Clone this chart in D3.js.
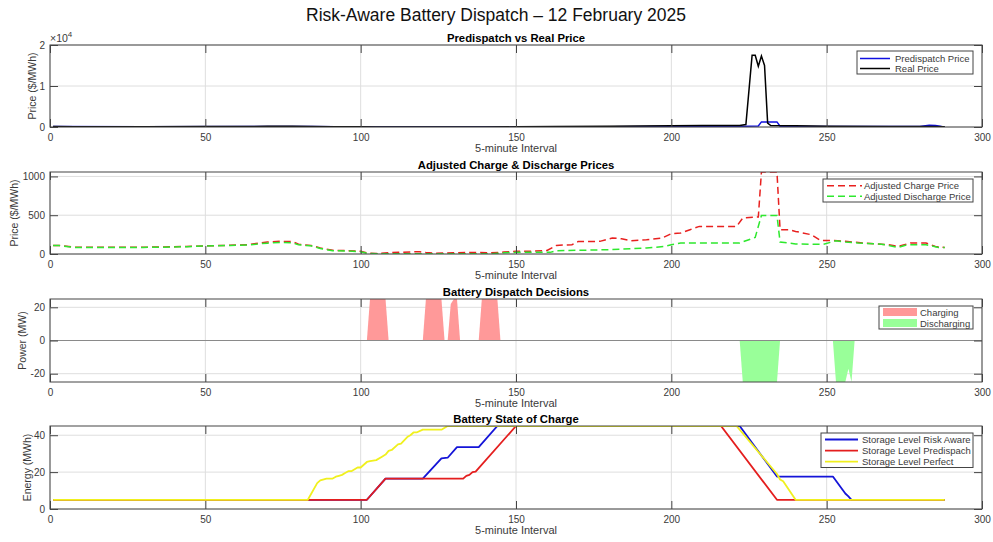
<!DOCTYPE html>
<html>
<head>
<meta charset="utf-8">
<script src="https://cdn.jsdelivr.net/npm/d3@7"></script>
<style>
  body { margin: 0; background: #fff; }
  svg { display: block; font-family: "Liberation Sans", Arial, Helvetica, sans-serif; }
</style>
</head>
<body>
<svg id="chart" width="993" height="542"></svg>
<script>
// ---- data: [5-minute interval, value] points ----
const intervalTicks = [0, 50, 100, 150, 200, 250, 300];

const predispatchPrice = [[1,105],[30,85],[70,150],[84,100],[100,30],[110,10],[150,25],[180,60],[200,120],[222,150],[228,250],[229,1250],[234,1250],[235,200],[240,150],[260,150],[280,110],[283,400],[285,350],[287,100],[288,85]];
const realPrice = [[1,115],[8,90],[30,90],[50,110],[64,125],[70,170],[74,190],[78,170],[84,110],[91,50],[100,35],[105,10],[120,30],[140,15],[150,35],[163,120],[180,180],[200,280],[210,380],[222,380],[224,600],[226,17500],[227,17500],[228,14800],[229,17300],[230,15000],[231,950],[232,350],[240,300],[250,180],[270,120],[284,150],[288,90]];

const chargePrice = [[1,111],[3,111],[8,88],[30,88],[37,90],[44,98],[50,105],[58,112],[64,120],[67,140],[70,155],[74,163],[78,160],[80,125],[84,110],[87,78],[91,48],[96,43],[100,35],[102,13],[105,5],[110,18],[113,22],[119,30],[121,18],[124,10],[130,15],[136,20],[142,15],[146,25],[150,34],[156,37],[160,45],[163,111],[168,120],[170,160],[177,163],[181,206],[184,197],[187,171],[192,184],[197,206],[200,262],[203,270],[206,313],[209,356],[221,356],[223,464],[228,477],[229,1057],[234,1057],[235,313],[238,313],[240,291],[245,249],[248,175],[252,175],[256,163],[262,142],[270,120],[273,98],[277,142],[282,142],[285,98],[288,85]];
const dischargePrice = [[1,108],[3,108],[8,85],[30,85],[37,88],[44,95],[50,103],[58,110],[64,115],[67,130],[70,140],[74,148],[78,145],[80,118],[84,105],[87,72],[91,42],[96,38],[100,30],[102,10],[105,2],[120,3],[142,4],[146,15],[150,21],[161,21],[163,43],[180,55],[192,77],[198,98],[200,120],[203,142],[222,142],[227,214],[229,497],[234,497],[235,155],[240,129],[249,125],[253,170],[256,155],[260,142],[267,129],[270,110],[273,85],[276,120],[282,120],[286,85],[288,85]];

const chargingMW = [[102,0],[103,25],[108,25],[109,0],[120,0],[121,25],[126,25],[127,0],[128,0],[129,22],[130,25],[131,25],[132,0],[138,0],[139,25],[144,25],[145,0]];
const dischargingMW = [[222,0],[223,-25],[234,-25],[235,0],[252,0],[253,-25],[256,-25],[257,-17],[258,-25],[259,0]];

const storageRiskAware = [[1,5],[102,5],[108,16.5],[120,16.5],[126,27.5],[128,27.8],[131,33.5],[138,33.5],[144,45],[222,45],[234,17.6],[252,17.6],[256,8.4],[257,6.8],[258,5],[288,5]];
const storagePredispatch = [[1,5],[102,5],[108,16.5],[133,16.5],[134,18],[135,18.5],[136,20],[137,20.3],[150,45],[216,45],[234,5],[288,5]];
const storagePerfect = [[1,5],[83,5],[86,14],[87,15.5],[89,16.5],[91,16.5],[92,17.5],[93,18],[94,18.5],[95,19.5],[96,20.5],[97,20.5],[99,22.5],[100,22.5],[102,25.5],[103,26],[105,26.5],[107,28.5],[108,29.5],[109,31.5],[110,32],[112,35],[113,35.5],[115,39],[116,40],[117,41.5],[118,41.5],[120,43],[126,43],[128,45],[221,45],[234,19],[235,16],[236,15],[240,5],[288,5]];

// ---- layout ----
const W = 993, H = 542;
const svg = d3.select('#chart');
svg.append('rect').attr('width', W).attr('height', H).attr('fill', '#fff');

const x = d3.scaleLinear().domain([0, 300]).range([50, 982]);
const L = x.range()[0], R = x.range()[1];

const panels = [
  { top: 45, bottom: 127, domain: [0, 20000], ticks: [0, 10000, 20000], fmt: d => d / 1e4,
    title: 'Predispatch vs Real Price', ylabel: 'Price ($/MWh)', ylabelX: 31.5 },
  { top: 172, bottom: 254, domain: [0, 1057], ticks: [0, 500, 1000], fmt: d => d,
    title: 'Adjusted Charge & Discharge Prices', ylabel: 'Price ($/MWh)', ylabelX: 14 },
  { top: 299, bottom: 382, domain: [-25, 25], ticks: [-20, 0, 20], fmt: d => d,
    title: 'Battery Dispatch Decisions', ylabel: 'Power (MW)', ylabelX: 22 },
  { top: 426, bottom: 509, domain: [0, 45], ticks: [0, 20, 40], fmt: d => d,
    title: 'Battery State of Charge', ylabel: 'Energy (MWh)', ylabelX: 27 }
];

const axisColor = '#444';
const textColor = '#3a3a3a';

// main title
svg.append('text')
  .attr('x', 496).attr('y', 21)
  .attr('text-anchor', 'middle')
  .attr('font-size', 17.5)
  .attr('fill', '#111')
  .text('Risk-Aware Battery Dispatch \u2013 12 February 2025');

panels.forEach((p, i) => {
  p.y = d3.scaleLinear().domain(p.domain).range([p.bottom, p.top]);
  const g = svg.append('g');
  p.g = g;

  // grid
  g.append('g').selectAll('line').data(intervalTicks).join('line')
    .attr('x1', d => x(d)).attr('x2', d => x(d))
    .attr('y1', p.top).attr('y2', p.bottom)
    .attr('stroke', '#dedede').attr('stroke-width', 1);
  g.append('g').selectAll('line').data(p.ticks).join('line')
    .attr('x1', L).attr('x2', R)
    .attr('y1', d => p.y(d)).attr('y2', d => p.y(d))
    .attr('stroke', '#dedede').attr('stroke-width', 1);

  // clip for data
  svg.append('clipPath').attr('id', 'clip' + i)
    .append('rect').attr('x', L).attr('y', p.top).attr('width', R - L).attr('height', p.bottom - p.top);
  p.plot = g.append('g').attr('clip-path', `url(#clip${i})`);
});

// ---- axes (drawn after data so ticks and box sit on top) ----
function drawAxes(p) {
  const g = svg.append('g');
  const bottomAxis = d3.axisBottom(x).tickValues(intervalTicks).tickSize(-8).tickPadding(6.5);
  const topAxis = d3.axisTop(x).tickValues(intervalTicks).tickSize(-8).tickFormat('');
  const leftAxis = d3.axisLeft(p.y).tickValues(p.ticks).tickSize(-8).tickPadding(5).tickFormat(p.fmt);
  const rightAxis = d3.axisRight(p.y).tickValues(p.ticks).tickSize(-8).tickFormat('');

  const ax = [
    g.append('g').attr('transform', `translate(0,${p.bottom})`).call(bottomAxis),
    g.append('g').attr('transform', `translate(0,${p.top})`).call(topAxis),
    g.append('g').attr('transform', `translate(${L},0)`).call(leftAxis),
    g.append('g').attr('transform', `translate(${R},0)`).call(rightAxis)
  ];
  ax.forEach(a => {
    a.select('.domain').remove();
    a.selectAll('line').attr('stroke', axisColor);
    a.selectAll('text').attr('fill', textColor).attr('font-size', 10)
      .attr('font-family', '"Liberation Sans", Arial, sans-serif');
  });

  // box
  g.append('rect')
    .attr('x', L).attr('y', p.top).attr('width', R - L).attr('height', p.bottom - p.top)
    .attr('fill', 'none').attr('stroke', axisColor).attr('stroke-width', 1);

  // subplot title
  g.append('text')
    .attr('x', (L + R) / 2).attr('y', p.top - 3.5)
    .attr('text-anchor', 'middle').attr('font-size', 11.3).attr('font-weight', 'bold')
    .attr('fill', '#000').text(p.title);

  // x label
  g.append('text')
    .attr('x', (L + R) / 2).attr('y', p.bottom + 25)
    .attr('text-anchor', 'middle').attr('font-size', 11).attr('fill', textColor)
    .text('5-minute Interval');

  // y label
  g.append('text')
    .attr('transform', `translate(${p.ylabelX},${(p.top + p.bottom) / 2}) rotate(-90)`)
    .attr('text-anchor', 'middle').attr('dominant-baseline', 'central')
    .attr('font-size', 10.5).attr('fill', textColor)
    .text(p.ylabel);
}

function lineFor(p) {
  return d3.line().x(d => x(d[0])).y(d => p.y(d[1]));
}

// ---- panel 1: predispatch vs real price ----
{
  const p = panels[0];
  const line = lineFor(p);
  p.plot.append('path').datum(predispatchPrice).attr('d', line)
    .attr('fill', 'none').attr('stroke', '#1010e0').attr('stroke-width', 1.5);
  p.plot.append('path').datum(realPrice).attr('d', line)
    .attr('fill', 'none').attr('stroke', '#000').attr('stroke-width', 1.5);
}

// ---- panel 2: adjusted prices ----
{
  const p = panels[1];
  const line = lineFor(p);
  p.plot.append('path').datum(chargePrice).attr('d', line)
    .attr('fill', 'none').attr('stroke', '#e8201f').attr('stroke-width', 1.5)
    .attr('stroke-dasharray', '7,4');
  p.plot.append('path').datum(dischargePrice).attr('d', line)
    .attr('fill', 'none').attr('stroke', '#2ee82e').attr('stroke-width', 1.5)
    .attr('stroke-dasharray', '7,4');
}

// ---- panel 3: dispatch decisions ----
{
  const p = panels[2];
  const area = d3.area().x(d => x(d[0])).y0(p.y(0)).y1(d => p.y(d[1]));
  // each run of nonzero power is its own filled region
  const runs = arr => {
    const out = []; let cur = [];
    arr.forEach(d => {
      cur.push(d);
      if (d[1] === 0 && cur.length > 1) { out.push(cur); cur = []; }
    });
    if (cur.length > 1) out.push(cur);
    return out;
  };
  p.plot.selectAll('.chg').data(runs(chargingMW)).join('path')
    .attr('d', area).attr('fill', '#ff9999');
  p.plot.selectAll('.dis').data(runs(dischargingMW)).join('path')
    .attr('d', area).attr('fill', '#99ff99');
  p.plot.append('line')
    .attr('x1', L).attr('x2', R).attr('y1', p.y(0)).attr('y2', p.y(0))
    .attr('stroke', '#8a8a8a').attr('stroke-width', 1);
}

// ---- panel 4: state of charge ----
{
  const p = panels[3];
  const line = lineFor(p);
  [[storageRiskAware, '#1414d8'], [storagePredispatch, '#e41e1e'], [storagePerfect, '#f0f01e']]
    .forEach(([data, color]) => {
      p.plot.append('path').datum(data).attr('d', line)
        .attr('fill', 'none').attr('stroke', color).attr('stroke-width', 1.8)
        .attr('stroke-linejoin', 'round');
    });
}

panels.forEach(drawAxes);

// exponent label for panel 1
svg.append('text').attr('x', 50).attr('y', 42).attr('font-size', 10.5).attr('fill', textColor)
  .text('\u00d710')
  .append('tspan').attr('dy', -5).attr('font-size', 8).text('4');

// ---- legends ----
function legend(box, sample, textX, rows) {
  const g = svg.append('g');
  g.append('rect').attr('x', box[0]).attr('y', box[1]).attr('width', box[2]).attr('height', box[3])
    .attr('fill', '#fff').attr('stroke', axisColor).attr('stroke-width', 1);
  rows.forEach(r => {
    if (r.patch) {
      g.append('rect').attr('x', sample[0]).attr('y', r.y - 4).attr('width', sample[1] - sample[0]).attr('height', 8)
        .attr('fill', r.color);
    } else {
      g.append('line').attr('x1', sample[0]).attr('x2', sample[1]).attr('y1', r.y).attr('y2', r.y)
        .attr('stroke', r.color).attr('stroke-width', r.width || 1.5)
        .attr('stroke-dasharray', r.dash || null);
    }
    g.append('text').attr('x', textX).attr('y', r.y).attr('dominant-baseline', 'central')
      .attr('font-size', 9.5).attr('fill', textColor).text(r.label);
  });
}

legend([857, 51, 116, 23], [860, 890], 895, [
  { y: 58.5, color: '#1010e0', label: 'Predispatch Price' },
  { y: 68.5, color: '#000', label: 'Real Price' }
]);
legend([823, 179, 150, 23], [827, 862], 864, [
  { y: 185.7, color: '#e8201f', dash: '7,4', label: 'Adjusted Charge Price' },
  { y: 196.3, color: '#2ee82e', dash: '7,4', label: 'Adjusted Discharge Price' }
]);
legend([879, 306, 94, 23], [883, 917], 920, [
  { y: 312, color: '#ff9999', patch: true, label: 'Charging' },
  { y: 323, color: '#99ff99', patch: true, label: 'Discharging' }
]);
legend([821, 433, 152, 34.5], [825, 858], 862, [
  { y: 439.5, color: '#1414d8', width: 1.8, label: 'Storage Level Risk Aware' },
  { y: 450.7, color: '#e41e1e', width: 1.8, label: 'Storage Level Predispach' },
  { y: 461.7, color: '#f0f01e', width: 1.8, label: 'Storage Level Perfect' }
]);
</script>
</body>
</html>
